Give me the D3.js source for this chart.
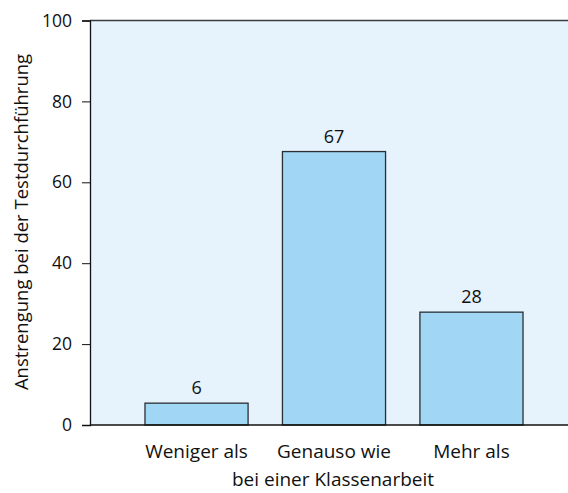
<!DOCTYPE html>
<html><head><meta charset="utf-8">
<script src="https://cdn.jsdelivr.net/npm/d3@7"></script>
<style>body{margin:0;background:#fff}svg{display:block}text{font-family:"Open Sans",sans-serif;fill:#111}</style>
</head><body>
<svg id="c" width="568" height="493"></svg>
<script>
const categories = ["Weniger als", "Genauso wie", "Mehr als"];
const values = [5.4, 67.6, 27.9];
const valueLabels = ["6", "67", "28"];
const yTicks = [0, 20, 40, 60, 80, 100];
const yTitle = "Anstrengung bei der Testdurchführung";
const xTitle = "bei einer Klassenarbeit";

const svg = d3.select("#c");
const x0 = 90, y0 = 425, yTop = 20.5;
const x = d3.scaleBand().domain(categories).range([x0, 578]).paddingInner(0.25).paddingOuter(0.4);
const y = d3.scaleLinear().domain([0, 100]).range([y0, yTop]);

svg.append("rect").attr("x", x0).attr("y", yTop).attr("width", 568 - x0).attr("height", y0 - yTop).attr("fill", "#e6f2fc");

svg.selectAll("rect.bar").data(values).join("rect").attr("class", "bar")
  .attr("x", (d, i) => x(categories[i])).attr("width", x.bandwidth())
  .attr("y", d => y(d)).attr("height", d => y(0) - y(d))
  .attr("fill", "#a1d6f4").attr("stroke", "#2b2f33").attr("stroke-width", 1.3);

svg.selectAll("text.val").data(values).join("text").attr("class", "val")
  .attr("x", (d, i) => x(categories[i]) + x.bandwidth() / 2).attr("y", d => y(d) - 9)
  .attr("text-anchor", "middle").attr("font-size", 18).text((d, i) => valueLabels[i]);

// top border
svg.append("line").attr("x1", x0).attr("x2", 568).attr("y1", yTop).attr("y2", yTop).attr("stroke", "#3a3d40").attr("stroke-width", 1.5);

const ya = svg.append("g").attr("transform", `translate(${x0},0)`)
  .call(d3.axisLeft(y).tickValues(yTicks).tickSize(8).tickPadding(10));
ya.select(".domain").attr("stroke", "#111").attr("stroke-width", 1.3);
ya.selectAll(".tick line").attr("stroke", "#111");
ya.selectAll(".tick text").attr("font-size", 17.5).attr("font-family", "Open Sans").attr("fill", "#111");

const xa = svg.append("g").attr("transform", `translate(0,${y0})`)
  .call(d3.axisBottom(x).tickSize(0).tickPadding(20));
xa.select(".domain").attr("d", `M${x0},0H568`).attr("stroke", "#111").attr("stroke-width", 1.3);
xa.selectAll(".tick text").attr("font-size", 19).attr("font-family", "Open Sans").attr("fill", "#111");

svg.append("text").attr("x", 333).attr("y", 486).attr("text-anchor", "middle").attr("font-size", 19).text(xTitle);
svg.append("text").attr("transform", "translate(28,222) rotate(-90)").attr("text-anchor", "middle").attr("font-size", 18.5).text(yTitle);
</script>
</body></html>
